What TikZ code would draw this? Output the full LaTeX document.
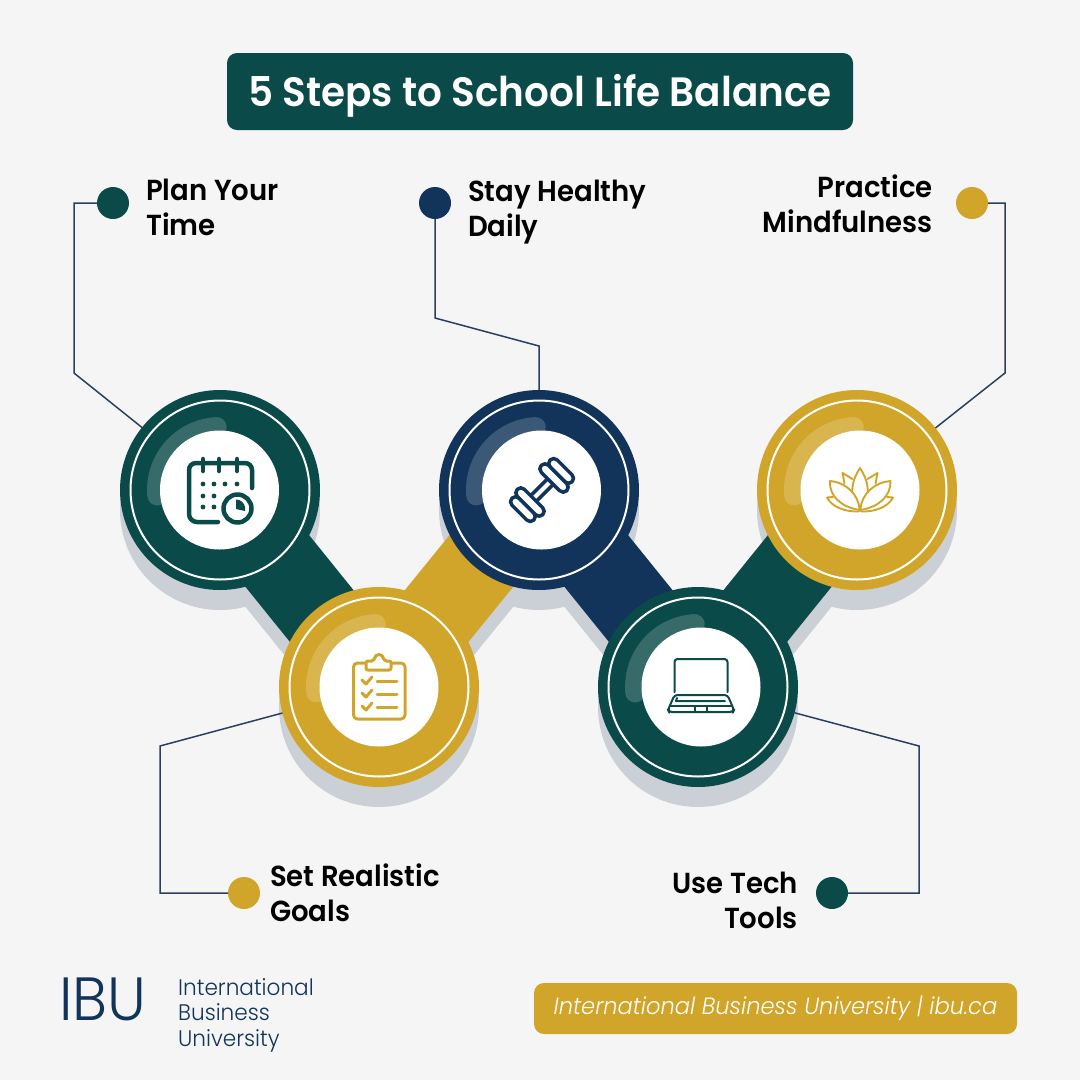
\documentclass[tikz,border=0pt]{standalone}
\usepackage{fontspec}
\setmainfont{Poppins}[BoldFont={Poppins SemiBold},BoldFeatures={FakeStretch=0.95},ItalicFont={Poppins Light Italic},ItalicFeatures={FakeStretch=0.96}]
\newfontfamily\lightfont{Poppins Light}[FakeStretch=0.96]
\usetikzlibrary{backgrounds}
\definecolor{ibugreen}{HTML}{0A4B49}
\definecolor{ibunavy}{HTML}{12345A}
\definecolor{ibugold}{HTML}{D1A52A}
\definecolor{ibushade}{HTML}{CBD0D7}
\definecolor{ibupage}{HTML}{F5F5F6}
\definecolor{ibuline}{HTML}{2C3F5E}
\tikzset
    { disc/.style={circle,minimum size=200pt,inner sep=0pt,outer sep=0pt}
    , bullet/.style={circle,minimum size=32pt,inner sep=0pt,outer sep=0pt}
    , bar/.style={line width=82pt}
    , leader/.style={draw=ibuline,line width=1.5pt}
    , steptext/.style={inner sep=0pt,font=\fontsize{29}{35}\selectfont\bfseries,text=black}
    , icon/.style={line width=#1,line cap=round,line join=round}
    }
\begin{document}
\begin{tikzpicture}[x=1pt,y=-1pt]
\useasboundingbox (0,0) rectangle (1080,1080);
\foreach \n/\x/\y/\w/\c in {plan/220/490/219.5/ibugreen,stay/539/490/541.5/ibunavy,mind/857/490/860/ibugold,goals/379/687/379/ibugold,tech/698/687/701/ibugreen}
    {
    \node[disc,fill=\c] (\n) at (\x,\y) {};
    \draw[white,opacity=0.18,line width=20pt,line cap=round] (\x,\y) ++(-93:63) arc[start angle=-93,end angle=-185,radius=63];
    \draw[white,line width=2pt] (\x,\y) circle (89.5);
    \fill[white] (\w,\y) circle (59.5);
    }
\begin{scope}[on background layer]
\fill[ibupage] (0,0) rectangle (1080,1080);
\foreach \a/\b in {plan/goals,goals/stay,stay/tech,tech/mind}
    \draw[bar,ibushade] ([yshift=-20pt]\a.center) -- ([yshift=-20pt]\b.center);
\foreach \a in {plan,stay,mind,goals,tech}
    \fill[ibushade] ([yshift=-20pt]\a.center) circle (100);
\draw[bar,ibugreen] (plan.center) -- (goals.center);
\draw[bar,ibugold] (goals.center) -- (stay.center);
\draw[bar,ibunavy] (stay.center) -- (tech.center);
\draw[bar,ibugreen] (tech.center) -- (mind.center);
\end{scope}

\node[fill=ibugreen,rounded corners=10pt,minimum width=626pt,minimum height=77pt,inner sep=0pt,text=white,font=\fontsize{41}{41}\selectfont\bfseries] (title) at (540,91.5) {\raisebox{-14.5pt}[0pt][0pt]{5 Steps to School Life Balance}};

\node[bullet,fill=ibugreen] (plandot) at (113,203) {};
\node[bullet,fill=ibunavy] (staydot) at (435,203) {};
\node[bullet,fill=ibugold] (minddot) at (972,203) {};
\node[bullet,fill=ibugold] (goalsdot) at (244,893) {};
\node[bullet,fill=ibugreen] (techdot) at (832,893) {};

\coordinate (planbend) at (74,373);
\coordinate (staybenda) at (435,318);
\coordinate (staybendb) at (539,346);
\coordinate (mindbend) at (1005,373);
\coordinate (goalsbend) at (160,746);
\coordinate (techbend) at (919,746);
\draw[leader] (plandot) -| (planbend) -- (plan);
\draw[leader] (staydot) -- (staybenda) -- (staybendb) -- (stay);
\draw[leader] (minddot) -| (mindbend) -- (mind);
\draw[leader] (goalsdot) -| (goalsbend) -- (goals);
\draw[leader] (techdot) -| (techbend) -- (tech);

\node[steptext,anchor=west,align=left] (plantext) at (146,207) {Plan Your\\Time};
\node[steptext,anchor=west,align=left] (staytext) at (468,212) {Stay Healthy\\Daily};
\node[steptext,anchor=east,align=right] (mindtext) at (933,204) {Practice\\Mindfulness};
\node[steptext,anchor=west,align=left] (goalstext) at (270,893) {Set Realistic\\Goals};
\node[steptext,anchor=east,align=right] (techtext) at (798,900) {Use Tech\\Tools};

\begin{scope}[shift={(220,490)},ibugreen,icon=4.5pt]
\draw (32,-2) -- (32,-20) arc[start angle=0,end angle=-90,radius=7] -- (-24,-27) arc[start angle=-90,end angle=-180,radius=7] -- (-31,24) arc[start angle=180,end angle=90,radius=8] -- (-2,32);
\draw (-17,-31) -- (-17,-19) (-1,-31) -- (-1,-19) (17,-31) -- (17,-19);
\foreach \dx/\dy in {-17/-6,-6/-6,5/-6,17/-6,-17/6,-6/6,-17/17,-6/17}
    \fill (\dx,\dy) circle (2.4);
\draw[fill=white] (17.5,18.5) circle (14);
\fill (16,9.5) -- (16,19) -- (25,21) arc[start angle=13,end angle=-70,radius=9.5] -- cycle;
\end{scope}

\begin{scope}[shift={(542,490)},rotate=45,ibunavy,icon=3.5pt]
\draw[fill=white] (-13,-4) rectangle (13,4);
\foreach \s in {-1,1}
    {
    \draw[fill=white,rounded corners=5pt] ({\s*27-5},-15.5) rectangle ({\s*27+5},15.5);
    \draw[fill=white,rounded corners=5pt] ({\s*17-5},-18) rectangle ({\s*17+5},18);
    }
\end{scope}

\begin{scope}[shift={(857,490)},ibugold,icon=1.9pt]
\draw (-4.5,8) .. controls (-6,-6) and (-2,-14) .. (3,-22) .. controls (8,-14) and (12,-6) .. (10.5,8);
\draw (-12.5,-6.5) -- (-14.5,-17) -- (-4.5,-11);
\draw (18.5,-6.5) -- (20.5,-17) -- (10.5,-11);
\draw[fill=white] (2.5,20) .. controls (-16,17) and (-28,6) .. (-27,-9) .. controls (-12,-8) and (2,4) .. (2.5,20);
\draw[fill=white] (3.5,20) .. controls (22,17) and (34,6) .. (33.5,-9) .. controls (18,-8) and (4,4) .. (3.5,20);
\draw (-24,7) -- (-30,7.5) .. controls (-25,17) and (-12,22) .. (2,21.5);
\draw (30,7) -- (36,7.5) .. controls (31,17) and (18,22) .. (4,21.5);
\end{scope}

\begin{scope}[shift={(379,687)},ibugold,icon=3pt]
\draw[rounded corners=4pt] (-13,-24) -- (-25.5,-24) -- (-25.5,32) -- (26,32) -- (26,-24) -- (12,-24);
\draw[fill=white,rounded corners=2pt] (-13,-17) -- (-13,-26) -- (-5,-26) .. controls (-4,-34) and (4,-34) .. (5,-26) -- (12,-26) -- (12,-17) -- cycle;
\foreach \dy in {0,13,26}
    {
    \draw (-17,{\dy-7}) -- (-13,{\dy-3}) -- (-7,{\dy-10});
    \draw (-2,{\dy-6}) -- (18,{\dy-6});
    }
\end{scope}

\begin{scope}[shift={(698,687)},ibugreen,icon=2pt]
\draw[rounded corners=3pt] (-23.5,5) -- (-23.5,-28) -- (29.5,-28) -- (29.5,5);
\draw[rounded corners=3pt] (-23.5,8) -- (29.5,8) -- (36,23) -- (35,25) -- (-29,25) -- (-30,23) -- cycle;
\draw (-21,11) -- (-22,14) -- (27,14);
\draw (-28,19) -- (34,19);
\draw (-3,20) -- (-3,24) (9,20) -- (9,24);
\end{scope}

\node[anchor=west,inner sep=0pt,text=ibunavy,font=\fontsize{61}{61}\lightfont] (ibulogo) at (59,999) {IBU};
\node[anchor=west,inner sep=0pt,align=left,text=ibunavy,font=\fontsize{22.5}{25.5}\lightfont] (ibuname) at (178,1015) {International\\Business\\University};

\node[fill=ibugold,rounded corners=10pt,minimum width=483pt,minimum height=51pt,inner sep=0pt,text=white,font=\fontsize{23.5}{24}\selectfont\itshape] (footer) at (775.5,1008.5) {International Business University | ibu.ca};
\end{tikzpicture}
\end{document}
